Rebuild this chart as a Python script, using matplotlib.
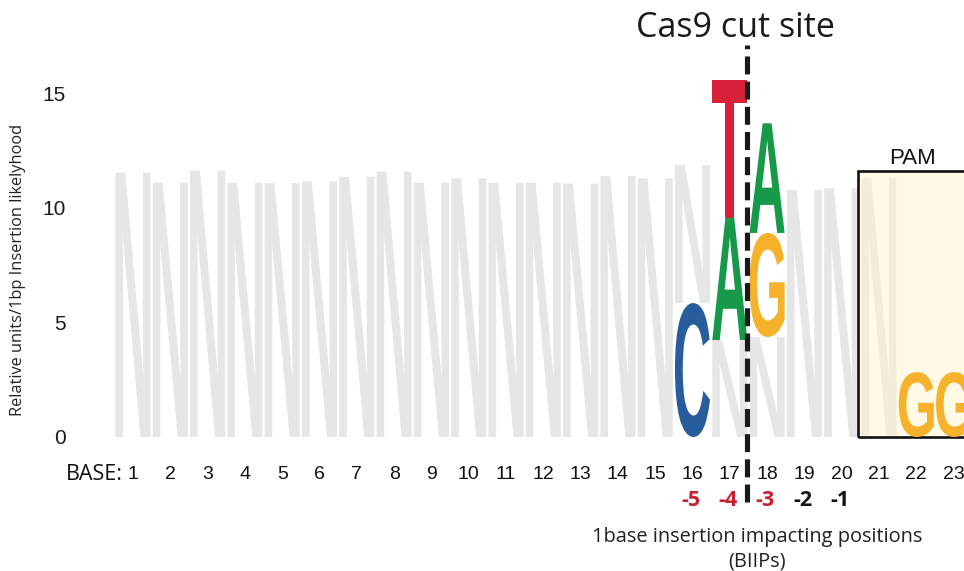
import matplotlib
matplotlib.use("Agg")
import matplotlib.pyplot as plt
from matplotlib.textpath import TextPath
from matplotlib.patches import PathPatch, Rectangle
from matplotlib.font_manager import FontProperties
from matplotlib.transforms import Affine2D

# ---------------- data ----------------
positions = list(range(1, 24))
logo_letters = [["N"]] * 15 + [
    ["C", "N"],
    ["N", "A", "T"],
    ["N", "G", "A"],
    ["N"],
    ["N"],
    ["N"],
    ["G"],
    ["G"],
]
logo_heights = [
    [11.53], [11.09], [11.61], [11.09], [11.07], [11.14], [11.35], [11.57],
    [11.09], [11.28], [11.09], [11.09], [11.05], [11.38], [11.28],
    [5.84, 6.02],
    [4.23, 5.32, 6.00],
    [4.36, 4.54, 4.78],
    [10.77],
    [10.85],
    [11.28],
    [2.83],
    [2.83],
]
letter_colors = {"N": "#e6e6e6", "A": "#17994a", "C": "#275c9d",
                 "G": "#f6b22a", "T": "#d7223a"}
y_ticks = [0, 5, 10, 15]
biip_positions = [16, 17, 18, 19, 20]
biip_labels = ["-5", "-4", "-3", "-2", "-1"]
biip_colors = ["#c8202f", "#c8202f", "#c8202f", "#111111", "#111111"]
cut_site = 17.47
pam_start = 20.45
pam_top = 11.6

# ---------------- layout ----------------
W, H = 964, 571
fig = plt.figure(figsize=(W / 100, H / 100), dpi=100)
px_x = 37.3   # px per position
px_y = 22.93  # px per unit
ax_left_px = 100
xmin = 1 - (133 - ax_left_px) / px_x
xmax = 1 + (W - 133) / px_x
ymin, ymax = -0.3, 17.5
bottom_px = 437 - ymin * px_y
top_px = 437 - ymax * px_y
ax = fig.add_axes([ax_left_px / W, (H - bottom_px) / H,
                   (W - ax_left_px) / W, (bottom_px - top_px) / H])
ax.set_xlim(xmin, xmax)
ax.set_ylim(ymin, ymax)
for s in ax.spines.values():
    s.set_visible(False)

letter_font = FontProperties(family="Liberation Sans", weight="bold")


def draw_letter(ax, ch, x, y0, h, color, width=0.94, zorder=2):
    tp = TextPath((0, 0), ch, size=1, prop=letter_font)
    bb = tp.get_extents()
    tr = (Affine2D().translate(-bb.x0, -bb.y0)
          .scale(width / bb.width, h / bb.height)
          .translate(x - width / 2, y0))
    path = tr.transform_path(tp)
    ax.add_patch(PathPatch(path, facecolor=color, edgecolor="none",
                           zorder=zorder))


for x, letters, heights in zip(positions, logo_letters, logo_heights):
    base = 0.0
    for ch, h in zip(letters, heights):
        z = 2 if ch == "N" else 4
        draw_letter(ax, ch, x, base, h, letter_colors[ch], zorder=z)
        base += h

# PAM box
ax.add_patch(Rectangle((pam_start, 0), 6, pam_top, facecolor="#fff6c8",
                       alpha=0.45, edgecolor="none", zorder=3))
ax.add_patch(Rectangle((pam_start, 0), 6, pam_top, facecolor="none",
                       edgecolor="#111111", linewidth=1.9, zorder=3.5))
ax.text(21.91, pam_top + 0.08, "PAM", ha="center", va="bottom",
        fontsize=16, family="Liberation Sans", color="#111111")

# Cut site dashed line
ax.plot([cut_site, cut_site], [-2.83, 17.1], color="#1a1a1a", lw=3.7,
        dashes=(3.5, 1.4), zorder=6, clip_on=False, solid_capstyle="butt",
        dash_capstyle="butt")
fig.text(735 / W, 1 - 28 / H, "Cas9 cut site", ha="center", va="center",
         fontsize=24.5, family="Open Sans", color="#1a1a1a")

# ticks
ax.set_yticks(y_ticks)
ax.set_yticklabels([str(v) for v in y_ticks], family="Liberation Sans",
                   fontsize=15, color="#1a1a1a")
ax.tick_params(axis="y", length=0, pad=24.5)
ax.set_xticks(positions)
ax.set_xticklabels([str(p) for p in positions], family="Liberation Sans",
                   fontsize=14, color="#111111")
ax.tick_params(axis="x", length=0, pad=16)

fig.text(123 / W, 1 - 474 / H, "BASE:", ha="right", va="center",
         fontsize=15.5, family="Open Sans", color="#111111")
fig.text(18 / W, 1 - 270 / H, "Relative units/1bp Insertion likelyhood",
         rotation=90, ha="center", va="center", fontsize=11.8,
         family="Open Sans", color="#222222")

for p, lab, c in zip(biip_positions, biip_labels, biip_colors):
    ax.text(p - 0.05, (437 - 500) / px_y, lab, ha="center", va="center",
            fontsize=15.5, family="Open Sans", weight="bold", color=c,
            clip_on=False)

fig.text(757 / W, 1 - 537 / H, "1base insertion impacting positions",
         ha="center", va="center", fontsize=14.4, family="Open Sans",
         color="#222222")
fig.text(757 / W, 1 - 562 / H, "(BIIPs)", ha="center", va="center",
         fontsize=14.4, family="Open Sans", color="#222222")

fig.savefig("out.png", dpi=100)
